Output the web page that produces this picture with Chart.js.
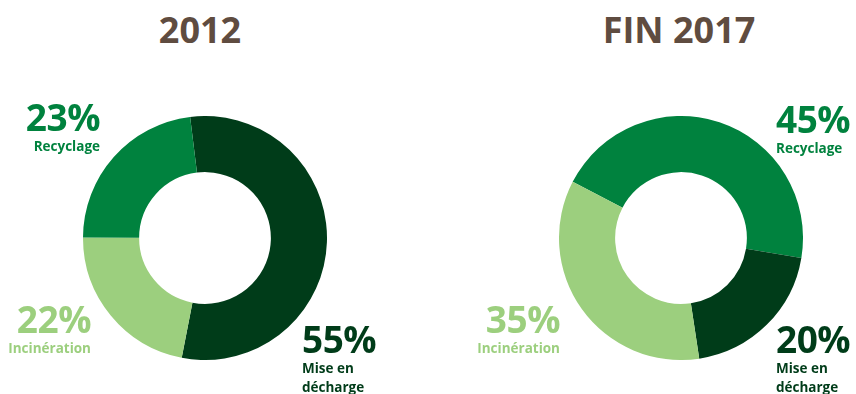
<!DOCTYPE html>
<html>
<head>
<meta charset="utf-8">
<script src="https://cdn.jsdelivr.net/npm/chart.js@4.4.0/dist/chart.umd.min.js"></script>
<style>
  body { margin: 0; width: 856px; height: 394px; background: #fff; position: relative; overflow: hidden; font-family: "Open Sans", sans-serif; }
  canvas { position: absolute; }
  .title { position: absolute; top: 5px; font-size: 36px; font-weight: 700; color: #5f4c40; text-align: center; width: 300px; }
  .lbl { position: absolute; font-weight: 700; }
  .lbl .pct { font-size: 37px; line-height: 40px; letter-spacing: -0.5px; }
  .lbl .name { font-size: 13.5px; line-height: 19px; }
  .r { text-align: right; }
</style>
</head>
<body>
<canvas id="c2012" width="244" height="244" style="left:83px;top:116px"></canvas>
<canvas id="c2017" width="244" height="244" style="left:559px;top:116px"></canvas>
<div id="overlay"></div>
<script>
// données
var titles = ['2012', 'FIN 2017'];
var labels2012 = ['Mise en décharge', 'Incinération', 'Recyclage'];
var values2012 = [55, 22, 23];
var labels2017 = ['Recyclage', 'Mise en décharge', 'Incinération'];
var values2017 = [45, 20, 35];
var colorOf = { 'Recyclage': '#00823e', 'Incinération': '#9ccf7e', 'Mise en décharge': '#003c19' };
var labelNames = { 'Recyclage': 'Recyclage', 'Incinération': 'Incinération', 'Mise en décharge': 'Mise en<br>décharge' };

function donut(id, labels, values, rotation) {
  var ctx = document.getElementById(id).getContext('2d');
  return new Chart(ctx, {
    type: 'doughnut',
    data: {
      labels: labels,
      datasets: [{
        data: values,
        backgroundColor: labels.map(function (l) { return colorOf[l]; }),
        borderWidth: 0
      }]
    },
    options: {
      responsive: false,
      animation: false,
      cutout: '54%',
      rotation: rotation,
      layout: { padding: 0 },
      plugins: { legend: { display: false }, tooltip: { enabled: false } }
    }
  });
}

donut('c2012', labels2012, values2012, -7);
donut('c2017', labels2017, values2017, -62.6);

// titres et étiquettes
var overlay = document.getElementById('overlay');
function addTitle(text, cx) {
  var d = document.createElement('div');
  d.className = 'title';
  d.style.left = (cx - 150) + 'px';
  d.textContent = text;
  overlay.appendChild(d);
}
addTitle(titles[0], 200);
addTitle(titles[1], 679);

function addLabel(name, value, x, y, right) {
  var d = document.createElement('div');
  d.className = 'lbl' + (right ? ' r' : '');
  d.style.color = colorOf[name];
  d.style.top = y + 'px';
  if (right) { d.style.right = (856 - x) + 'px'; } else { d.style.left = x + 'px'; }
  d.innerHTML = '<div class="pct">' + value + '%</div><div class="name">' + labelNames[name] + '</div>';
  overlay.appendChild(d);
}
addLabel('Recyclage', values2012[2], 100, 97, true);
addLabel('Incinération', values2012[1], 91, 299, true);
addLabel('Mise en décharge', values2012[0], 302, 319, false);
addLabel('Incinération', values2017[2], 560, 299, true);
addLabel('Recyclage', values2017[0], 776, 99, false);
addLabel('Mise en décharge', values2017[1], 776, 319, false);
</script>
</body>
</html>
